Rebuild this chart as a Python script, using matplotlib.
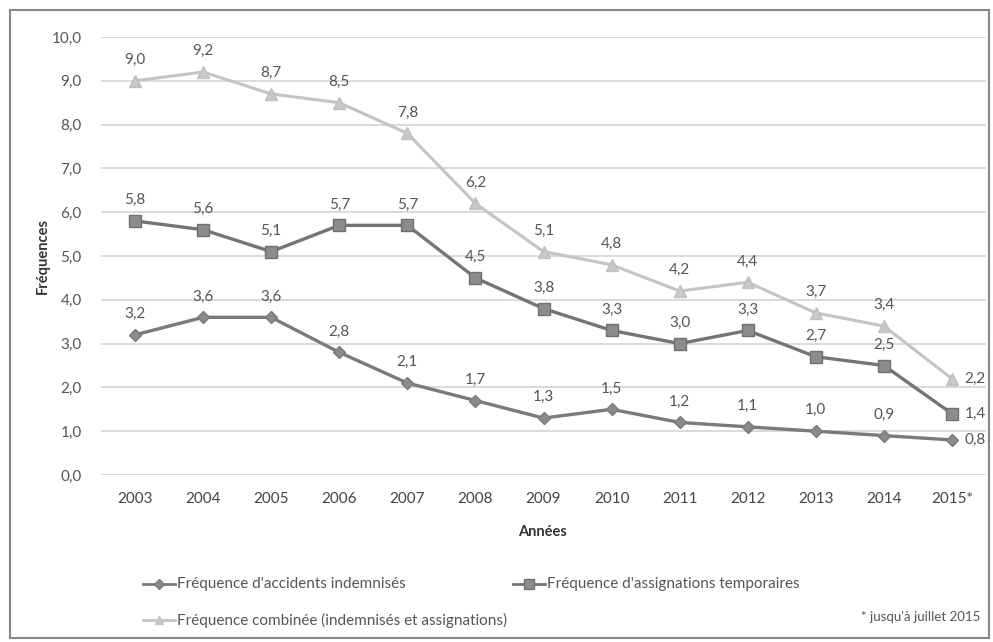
import matplotlib
matplotlib.use("Agg")
import matplotlib.pyplot as plt
from matplotlib.patches import Rectangle
from matplotlib.lines import Line2D

years = ["2003", "2004", "2005", "2006", "2007", "2008", "2009", "2010",
         "2011", "2012", "2013", "2014", "2015*"]
accidents = [3.2, 3.6, 3.6, 2.8, 2.1, 1.7, 1.3, 1.5, 1.2, 1.1, 1.0, 0.9, 0.8]
assignations = [5.8, 5.6, 5.1, 5.7, 5.7, 4.5, 3.8, 3.3, 3.0, 3.3, 2.7, 2.5, 1.4]
combinee = [9.0, 9.2, 8.7, 8.5, 7.8, 6.2, 5.1, 4.8, 4.2, 4.4, 3.7, 3.4, 2.2]
yticks = [0, 1, 2, 3, 4, 5, 6, 7, 8, 9, 10]

labels = ["Fréquence d'accidents indemnisés",
          "Fréquence d'assignations temporaires",
          "Fréquence combinée (indemnisés et assignations)"]

plt.rcParams['font.family'] = ['Lato', 'DejaVu Sans']

W, H = 993, 642
fig = plt.figure(figsize=(W / 100, H / 100), dpi=100)
fig.patch.set_facecolor('white')
ax = fig.add_axes([101 / W, 1 - 475 / H, (986 - 101) / W, (475 - 37) / H])

x = list(range(len(years)))
c_acc = '#7a7a7a'
c_com = '#c4c4c4'

ax.plot(x, combinee, color=c_com, lw=2.2, marker='^', ms=9,
        mfc='#c8c8c8', mec='#c0c0c0', zorder=3)
ax.plot(x, assignations, color='#747474', lw=2.4, marker='s', ms=9,
        mfc='#8c8c8c', mec='#707070', zorder=3)
ax.plot(x, accidents, color=c_acc, lw=2.4, marker='D', ms=6.5,
        mfc='#8a8a8a', mec='#7a7a7a', zorder=3)

def fmt(v):
    return f"{v:.1f}".replace('.', ',')

tc = '#555555'
for series in (combinee, assignations, accidents):
    for i, v in enumerate(series):
        if i == len(series) - 1:
            ax.annotate(fmt(v), (i, v), xytext=(9, 0), textcoords='offset points',
                        ha='left', va='center', fontsize=11, color=tc)
        else:
            ax.annotate(fmt(v), (i, v), xytext=(0, 10), textcoords='offset points',
                        ha='center', va='bottom', fontsize=11, color=tc)

ax.set_xlim(-0.5, len(years) - 0.5)
ax.set_ylim(0, 10)
ax.set_yticks(yticks)
ax.set_yticklabels([fmt(v) for v in yticks], fontsize=11, color=tc)
ax.set_xticks(x)
ax.set_xticklabels(years, fontsize=11, color='#444444')
ax.tick_params(length=0, pad=14)
ax.tick_params(axis='x', pad=12)
ax.grid(axis='y', color='#d4d4d4', lw=1.2)
ax.set_axisbelow(True)
for s in ax.spines.values():
    s.set_visible(False)

ax.set_ylabel("Fréquences", fontsize=10.5, fontweight='bold', color='#333333')
ax.yaxis.set_label_coords(-51 / (986 - 101), 0.5)
fig.text(543 / W, 1 - 532 / H, "Années", ha='center', va='center',
         fontsize=10.5, fontweight='bold', color='#333333')

def leg_item(x0, y0, color, marker, ms, mfc, text):
    ln = Line2D([x0 / W, (x0 + 32) / W], [1 - y0 / H, 1 - y0 / H], color=color, lw=2,
                transform=fig.transFigure)
    fig.lines.append(ln)
    mk = Line2D([(x0 + 16) / W], [1 - y0 / H], color=color, marker=marker, ms=ms,
                mfc=mfc, mec=color, lw=0, transform=fig.transFigure)
    fig.lines.append(mk)
    fig.text((x0 + 34) / W, 1 - y0 / H, text, ha='left', va='center',
             fontsize=11, color='#555555')

leg_item(143, 584, c_acc, 'D', 5, '#8a8a8a', labels[0])
leg_item(513, 584, '#747474', 's', 7, '#8c8c8c', labels[1])
leg_item(143, 620, c_com, '^', 6, '#c8c8c8', labels[2])
fig.text(980 / W, 1 - 617 / H, "* jusqu'à juillet 2015", ha='right', va='center',
         fontsize=9.5, color='#555555')

fig.patches.append(Rectangle((10 / W, 1 - 638 / H), (989 - 10) / W, (638 - 10) / H,
                             transform=fig.transFigure, fill=False,
                             edgecolor='#888888', lw=1.5))

fig.savefig('out.png', dpi=100, facecolor='white')
